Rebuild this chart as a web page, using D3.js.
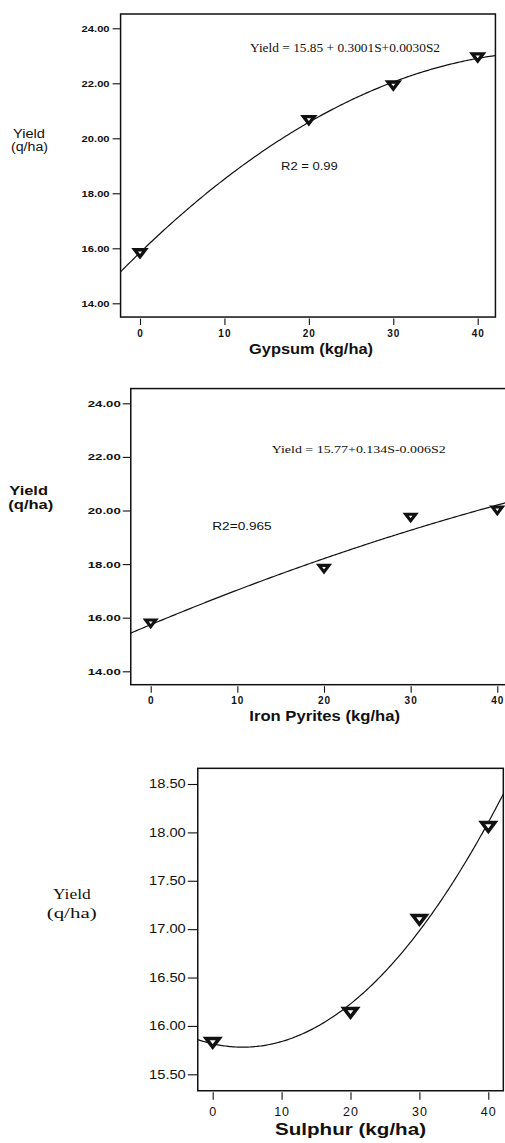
<!DOCTYPE html>
<html>
<head>
<meta charset="utf-8">
<script src="https://cdn.jsdelivr.net/npm/d3@7"></script>
<style>
  html, body { margin: 0; padding: 0; background: #fff; overflow: hidden; }
  svg { display: block; }
</style>
</head>
<body>
<svg id="chart" width="505" height="1143"></svg>
<script>
// ---------------- DATA ----------------
const doseLevels   = [0, 20, 30, 40];          // kg/ha
const gypsumYield  = [15.83, 20.67, 21.93, 22.95];
const pyritesYield = [15.80, 17.84, 19.75, 20.02];
const sulphurYield = [15.83, 16.14, 17.10, 18.06];
const xTickValues  = [0, 10, 20, 30, 40];
const yTicksTop    = [14, 16, 18, 20, 22, 24];
const yTicksMid    = [14, 16, 18, 20, 22, 24];
const yTicksBottom = [15.5, 16, 16.5, 17, 17.5, 18, 18.5];
const xTitles      = ["Gypsum (kg/ha)", "Iron Pyrites (kg/ha)", "Sulphur (kg/ha)"];
const equations    = ["Yield = 15.85 + 0.3001S+0.0030S2", "Yield = 15.77+0.134S-0.006S2", ""];
const r2Labels     = ["R2 = 0.99", "R2=0.965", ""];

// ---------------- HELPERS ----------------
function quadFit(xs, ys) {
  // least squares y = a + b x + c x^2
  const S = k => d3.sum(xs, x => Math.pow(x, k));
  const T = k => d3.sum(xs, (x, i) => Math.pow(x, k) * ys[i]);
  const M = [[S(0), S(1), S(2), T(0)], [S(1), S(2), S(3), T(1)], [S(2), S(3), S(4), T(2)]];
  for (let i = 0; i < 3; i++) {
    for (let j = i + 1; j < 3; j++) {
      const f = M[j][i] / M[i][i];
      for (let k = i; k < 4; k++) M[j][k] -= f * M[i][k];
    }
  }
  const r = [0, 0, 0];
  for (let i = 2; i >= 0; i--) {
    let s = M[i][3];
    for (let k = i + 1; k < 3; k++) s -= M[i][k] * r[k];
    r[i] = s / M[i][i];
  }
  return r;
}

const svg = d3.select("#chart");
const SANS = "'Liberation Sans', Arial, sans-serif";
const SERIF = "'Liberation Serif', 'Times New Roman', serif";

function txt(x, y, s, o) {
  const t = svg.append("text")
    .attr("x", x).attr("y", y).attr("dy", "0.35em")
    .attr("font-family", o.family || SANS)
    .attr("font-size", o.size)
    .attr("font-weight", o.weight || "normal")
    .attr("text-anchor", o.anchor || "start")
    .attr("fill", "#111")
    .text(s);
  if (o.len) t.attr("textLength", o.len).attr("lengthAdjust", "spacingAndGlyphs");
  return t;
}

let clipId = 0;
function panel(c) {
  const x = d3.scaleLinear().domain([0, 40]).range([c.x0, c.x40]);
  const y = d3.scaleLinear().domain(c.yRef).range(c.yRefPx);
  const L = x(c.xMin), R = x(c.xMax), T = y(c.yMax), B = y(c.yMin);

  // axes
  const ya = svg.append("g").attr("transform", `translate(${L},0)`)
    .call(d3.axisLeft(y).tickValues(c.yTicks).tickFormat(d3.format(".2f"))
      .tickSize(c.yTickLen).tickPadding(c.yPad));
  ya.select(".domain").remove();
  ya.selectAll(".tick line").attr("stroke", "#111").attr("stroke-width", 1.1);
  ya.selectAll(".tick text")
    .attr("font-family", SANS).attr("font-size", c.yFont).attr("font-weight", c.yWeight)
    .attr("fill", "#111").attr("textLength", c.yLen).attr("lengthAdjust", "spacingAndGlyphs");

  const xa = svg.append("g").attr("transform", `translate(0,${B})`)
    .call(d3.axisBottom(x).tickValues(xTickValues).tickFormat(d3.format("d"))
      .tickSize(c.xTickLen).tickPadding(3));
  xa.select(".domain").remove();
  xa.selectAll(".tick line").attr("y1", 1.5).attr("stroke", "#111").attr("stroke-width", 1.1);
  xa.selectAll(".tick text")
    .attr("y", c.xLabDy).attr("dy", "0.35em")
    .attr("font-family", SANS).attr("font-size", c.xFont).attr("font-weight", c.xWeight)
    .attr("letter-spacing", c.xSpacing).attr("fill", "#111");

  // frame
  svg.append("rect").attr("x", L).attr("y", T).attr("width", R - L).attr("height", B - T)
    .attr("fill", "none").attr("stroke", "#111").attr("stroke-width", 1.5);

  // fitted curve
  const id = "clip" + (clipId++);
  svg.append("clipPath").attr("id", id).append("rect")
    .attr("x", L).attr("y", T).attr("width", R - L).attr("height", B - T);
  const [a, b, cc] = quadFit(doseLevels, c.values);
  const samples = d3.range(0, 201).map(i => c.xMin + (c.xMax - c.xMin) * i / 200);
  svg.append("path")
    .attr("clip-path", `url(#${id})`)
    .attr("d", d3.line().x(d => x(d)).y(d => y(a + b * d + cc * d * d))(samples))
    .attr("fill", "none").attr("stroke", "#111").attr("stroke-width", 1.2);

  // markers (downward triangles)
  const w = c.mk, h1 = c.mk * 0.6, h2 = c.mk * 0.72;
  svg.append("g").selectAll("path").data(doseLevels).join("path")
    .attr("transform", (d, i) => `translate(${x(d)},${y(c.values[i])})`)
    .attr("d", `M${-w},${-h1}L${w},${-h1}L0,${h2}Z`)
    .attr("fill", "#fff").attr("stroke", "#111").attr("stroke-width", c.mkStroke)
    .attr("stroke-linejoin", "miter");
}

// ---------------- PANELS ----------------
panel({
  values: gypsumYield, x0: 140, x40: 477.7, xMin: -2.3, xMax: 42.1,
  yRef: [14, 24], yRefPx: [303.3, 28.3], yMin: 13.5, yMax: 24.52, yTicks: yTicksTop,
  yTickLen: 8, yPad: 3, yFont: 9.5, yWeight: "bold", yLen: 28,
  xTickLen: 8, xLabDy: 16.5, xFont: 10, xWeight: "bold", xSpacing: 1,
  mk: 5.4, mkStroke: 3.3
});
txt(13, 133.3, "Yield", { size: 12, len: 32 });
txt(11, 147, "(q/ha)", { size: 12, len: 37 });
txt(250, 47.7, equations[0], { size: 11.5, family: SERIF, len: 190 });
txt(281, 166.7, r2Labels[0], { size: 10.5, len: 56.7 });
txt(249, 348.3, xTitles[0], { size: 15, weight: "bold", len: 124 });

panel({
  values: pyritesYield, x0: 150.7, x40: 497.3, xMin: -2.3, xMax: 42.3,
  yRef: [14, 24], yRefPx: [671.3, 403.3], yMin: 13.5, yMax: 24.55, yTicks: yTicksMid,
  yTickLen: 8, yPad: 2, yFont: 9.5, yWeight: "bold", yLen: 33,
  xTickLen: 8, xLabDy: 15.7, xFont: 10, xWeight: "bold", xSpacing: 1,
  mk: 5.0, mkStroke: 3.1
});
txt(9.3, 490, "Yield", { size: 13, weight: "bold", len: 38.7 });
txt(8.3, 505, "(q/ha)", { size: 12, weight: "bold", len: 45 });
txt(271.7, 449, equations[1], { size: 11, family: SERIF, len: 174 });
txt(212.3, 526, r2Labels[1], { size: 10.5, len: 59.4 });
txt(249.3, 715.7, xTitles[1], { size: 15, weight: "bold", len: 150.7 });

panel({
  values: sulphurYield, x0: 212.7, x40: 488.3, xMin: -2.17, xMax: 42.18,
  yRef: [15.5, 18.5], yRefPx: [1074.3, 784], yMin: 15.33, yMax: 18.662, yTicks: yTicksBottom,
  yTickLen: 10, yPad: 2, yFont: 12, yWeight: "normal", yLen: 36.7,
  xTickLen: 9, xLabDy: 21, xFont: 12.5, xWeight: "normal", xSpacing: 1,
  mk: 6.6, mkStroke: 3.5
});
txt(53, 894, "Yield", { size: 14, family: SERIF, len: 37.7 });
txt(46.7, 913.3, "(q/ha)", { size: 14, family: SERIF, len: 50 });
txt(275, 1129.3, xTitles[2], { size: 17, weight: "bold", len: 151 });
</script>
</body>
</html>
